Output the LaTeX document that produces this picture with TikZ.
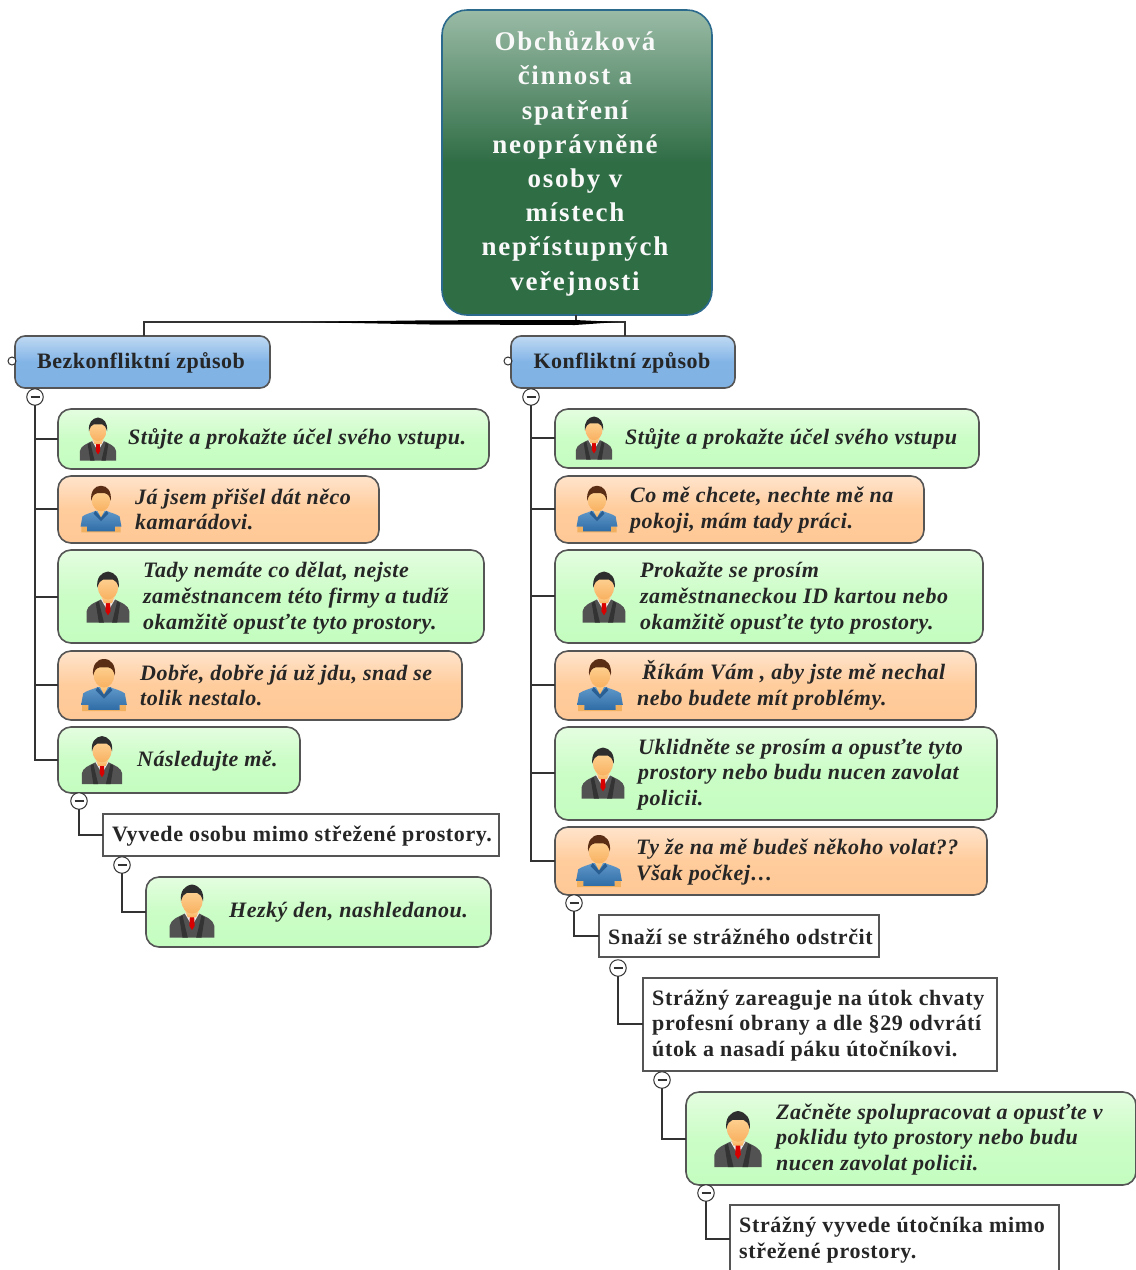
\documentclass[tikz,border=0pt]{standalone}
\usepackage{fontspec}
\setmainfont[LetterSpace=2.3]{Liberation Serif}
\newfontfamily\plainfont[LetterSpace=2.9]{Liberation Serif}
\newfontfamily\rootfont[LetterSpace=6.2]{Liberation Serif}
\usetikzlibrary{calc}
\definecolor{edgegray}{HTML}{555555}
\definecolor{linegray}{HTML}{333333}
\definecolor{e4fde0}{HTML}{E4FDE0}\definecolor{cbfdc6}{HTML}{CBFDC6}\definecolor{c4fdc0}{HTML}{C4FDC0}
\definecolor{ffe4cc}{HTML}{FFE4CC}\definecolor{ffcc9c}{HTML}{FFCC9C}\definecolor{ffc896}{HTML}{FFC896}
\definecolor{bfd9f3}{HTML}{BFD9F3}\definecolor{82b4e6}{HTML}{82B4E6}\definecolor{80b2e4}{HTML}{80B2E4}
\definecolor{2b6a8c}{HTML}{2B6A8C}\definecolor{9abba6}{HTML}{9ABBA6}\definecolor{2f6d45}{HTML}{2F6D45}
\definecolor{ffdfa8}{HTML}{FFDFA8}\definecolor{f8b05c}{HTML}{F8B05C}\definecolor{ffd79a}{HTML}{FFD79A}\definecolor{f8b060}{HTML}{F8B060}
\definecolor{f0b060}{HTML}{F0B060}\definecolor{5f97c8}{HTML}{5F97C8}\definecolor{2f6ca6}{HTML}{2F6CA6}\definecolor{2a5f94}{HTML}{2A5F94}\definecolor{5a2e14}{HTML}{5A2E14}
\tikzset{
  x=1pt,y=-1pt,
  boxbase/.style={anchor=north west,draw=edgegray,line width=1.6pt,inner sep=0pt,outer sep=0pt},
  greenbox/.style={boxbase,rounded corners=13pt,top color=e4fde0,bottom color=c4fdc0,middle color=cbfdc6},
  orangebox/.style={boxbase,rounded corners=13pt,top color=ffe4cc,bottom color=ffc896,middle color=ffcc9c},
  bluebox/.style={boxbase,rounded corners=10pt,top color=bfd9f3,bottom color=80b2e4,middle color=82b4e6},
  whitebox/.style={boxbase,fill=white,rounded corners=0pt},
  rootbox/.style={anchor=north west,draw=2b6a8c,line width=1.6pt,rounded corners=25pt,inner sep=0pt,outer sep=0pt,top color=9abba6,bottom color=2f6d45,middle color=2f6d45},
  italtxt/.style={anchor=west,align=left,inner sep=0pt,yshift=-1.2pt,font=\fontsize{22}{25.6}\selectfont\bfseries\itshape,text=black!85},
  plaintxt/.style={anchor=west,align=left,inner sep=0pt,yshift=-1.2pt,font=\plainfont\fontsize{22}{25.6}\selectfont\bfseries,text=black!85},
  headtxt/.style={anchor=center,align=center,inner sep=0pt,yshift=-1.5pt,font=\fontsize{22}{25.5}\selectfont\bfseries,text=black!85},
  roottxt/.style={anchor=center,align=center,inner sep=0pt,yshift=-2.5pt,font=\rootfont\fontsize{27}{34.2}\selectfont\bfseries,text=white!95!gray},
  collapse/.style={circle,draw=linegray,fill=white,line width=1pt,minimum size=16.5pt,inner sep=0pt,outer sep=0pt,
    path picture={\draw[line width=1.6pt,linegray] ($(path picture bounding box.center)+(-4.5,0)$)--($(path picture bounding box.center)+(4.5,0)$);}},
  tabmark/.style={circle,draw=linegray,fill=white,line width=1pt,minimum size=8pt,inner sep=0pt,outer sep=0pt},
  link/.style={draw=linegray,line width=1.4pt},
  suitman/.pic={
    \fill[black!68] (-21,25) -- (-21,14) .. controls (-20,8) and (-14,6) .. (-6,2) -- (6,2) .. controls (14,6) and (20,8) .. (21,14) -- (21,25) -- cycle;
    \fill[black!80] (-4,25) -- (-9,4) -- (-12,6) -- (-9,25) -- cycle;
    \fill[black!80] (4,25) -- (9,4) -- (12,6) -- (9,25) -- cycle;
    \fill[white!85!gray] (-7,2) -- (0,14) -- (7,2) -- cycle;
    \fill[red!85!black] (-2,5) -- (2,5) -- (2.5,14) -- (0,18) -- (-2.5,14) -- cycle;
    \shade[top color=ffdfa8,bottom color=f8b05c] (-7.5,-3) -- (7.5,-3) -- (4,6) -- (-4,6) -- cycle;
    \shade[top color=ffd79a,bottom color=f8b060] (0,-10) ellipse (10 and 12.5);
    \fill[black!82] (-10.5,-9) .. controls (-11.5,-19) and (-7,-24) .. (0,-25) .. controls (7,-24) and (11.5,-19) .. (10.5,-9) .. controls (9,-14) and (8,-16) .. (5,-17) -- (-5,-17) .. controls (-8,-16) and (-9,-14) .. (-10.5,-9) -- cycle;
  },
  casualman/.pic={
    \fill[f0b060] (-21,25) -- (-21,19) -- (-15,19) -- (-15,22) -- (15,22) -- (15,19) -- (21,19) -- (21,25) -- cycle;
    \shade[top color=5f97c8,bottom color=2f6ca6] (-15,24) -- (-15,19) -- (-22,19) -- (-20,8) .. controls (-16,5) and (-10,4) .. (-6,2) -- (6,2) .. controls (10,4) and (16,5) .. (20,8) -- (22,19) -- (15,19) -- (15,24) -- cycle;
    \fill[2a5f94] (-6,2) -- (0,9) -- (6,2) -- (8,5) -- (0,13) -- (-8,5) -- cycle;
    \shade[top color=ffdfa8,bottom color=f8b05c] (-6.5,-3) -- (6.5,-3) -- (0,9) -- cycle;
    \shade[top color=ffd79a,bottom color=f8b060] (0,-10) ellipse (10 and 12.5);
    \fill[5a2e14] (-10.5,-9) .. controls (-11.5,-19) and (-7,-25) .. (0,-25) .. controls (7,-25) and (11.5,-19) .. (10.5,-9) .. controls (9,-14) and (8,-16) .. (4,-17) -- (-4,-17) .. controls (-8,-16) and (-9,-14) .. (-10.5,-9) -- cycle;
  },
}
% \placebox{name}{style}{x1}{y1}{x2}{y2}
\newcommand{\placebox}[6]{\node[#2,minimum width=#5pt-#3pt,minimum height=#6pt-#4pt] (#1) at (#3,#4) {};}
\begin{document}
\begin{tikzpicture}
\clip (0,0) rectangle (1136,1270);
\useasboundingbox (0,0) rectangle (1136,1270);
\fill[white] (0,0) rectangle (1136,1270);
\coordinate (jl) at (144,322); \coordinate (jr) at (625,322); \coordinate (jm) at (576,322);
\coordinate (cA) at (35,397); \coordinate (cB) at (531,397);
% boxes
\placebox{root}{rootbox}{442}{10}{712}{315}
\placebox{L}{bluebox}{15}{336}{270}{388}
\placebox{R}{bluebox}{511}{336}{735}{388}
\placebox{l1}{greenbox}{58}{409}{489}{469}
\placebox{l2}{orangebox}{58}{476}{379}{543}
\placebox{l3}{greenbox}{58}{550}{484}{643}
\placebox{l4}{orangebox}{58}{651}{462}{720}
\placebox{l5}{greenbox}{58}{727}{300}{793}
\placebox{l6}{whitebox}{103}{814}{499}{856}
\placebox{l7}{greenbox}{146}{877}{491}{947}
\placebox{r1}{greenbox}{555}{409}{979}{468}
\placebox{r2}{orangebox}{555}{476}{924}{543}
\placebox{r3}{greenbox}{555}{550}{983}{643}
\placebox{r4}{orangebox}{555}{651}{976}{720}
\placebox{r5}{greenbox}{555}{727}{997}{820}
\placebox{r6}{orangebox}{555}{827}{987}{895}
\placebox{r7}{whitebox}{599}{915}{879}{957}
\placebox{r8}{whitebox}{643}{978}{997}{1071}
\placebox{r9}{greenbox}{686}{1092}{1136}{1185}
\placebox{r10}{whitebox}{730}{1205}{1059}{1285}
% root connectors
\draw[link] (root.south -| jm) -- (jm);
\draw[link] (L.north -| jl) -- (jl) -- (jr) -- (R.north -| jr);
\fill[black] (300,322) -- (430,320.3) -- (575,320) -- (618,322) -- (575,325) -- (430,324.5) -- cycle;
% collapse marks
\node[collapse] (mA) at (cA) {};
\node[collapse] (mB) at (cB) {};
\node[collapse] (m5) at (79,801) {};
\node[collapse] (m6) at (122,865) {};
\node[collapse] (m7) at (574,903) {};
\node[collapse] (m8) at (618,968) {};
\node[collapse] (m9) at (662,1080) {};
\node[collapse] (m10) at (706,1193) {};
\node[tabmark] (tL) at (12,361) {};
\node[tabmark] (tR) at (508,361) {};
\draw[link] (tL) -- (L.west |- tL);
\draw[link] (tR) -- (R.west |- tR);
% trunk links
\draw[link] (mA) -- (35,760) -- (l5.west |- 0,760);
\draw[link] (35,439) -- (l1.west |- 0,439);
\draw[link] (35,509) -- (l2.west |- 0,509);
\draw[link] (35,597) -- (l3.west |- 0,597);
\draw[link] (35,685) -- (l4.west |- 0,685);
\draw[link] (mB) -- (531,861) -- (r6.west |- 0,861);
\draw[link] (531,438) -- (r1.west |- 0,438);
\draw[link] (531,509) -- (r2.west |- 0,509);
\draw[link] (531,596) -- (r3.west |- 0,596);
\draw[link] (531,685) -- (r4.west |- 0,685);
\draw[link] (531,773) -- (r5.west |- 0,773);
\draw[link] (m5) -- (79,835) -- (l6.west |- 0,835);
\draw[link] (m6) -- (122,912) -- (l7.west |- 0,912);
\draw[link] (m7) -- (574,936) -- (r7.west |- 0,936);
\draw[link] (m8) -- (618,1024) -- (r8.west |- 0,1024);
\draw[link] (m9) -- (662,1139) -- (r9.west |- 0,1139);
\draw[link] (m10) -- (706,1239) -- (r10.west |- 0,1239);
% icons
\pic[scale=0.86] at (98,439) {suitman};
\pic[scale=0.93] at (101,509) {casualman};
\pic[scale=1.02] at (108,597) {suitman};
\pic[scale=1.04] at (104,685) {casualman};
\pic[scale=0.96] at (102,760) {suitman};
\pic[scale=1.06] at (192,911) {suitman};
\pic[scale=0.86] at (594,438) {suitman};
\pic[scale=0.93] at (597,509) {casualman};
\pic[scale=1.02] at (604,597) {suitman};
\pic[scale=1.04] at (600,685) {casualman};
\pic[scale=1.02] at (603,773) {suitman};
\pic[scale=1.04] at (599,861) {casualman};
\pic[scale=1.12] at (738,1139) {suitman};
% texts
\node[roottxt] (troot) at (575,161) {Obchůzková\\činnost a\\spatření\\neoprávněné\\osoby v\\místech\\nepřístupných\\veřejnosti};
\node[headtxt] (tLh) at (141,361) {Bezkonfliktní způsob};
\node[headtxt] (tRh) at (622,361) {Konfliktní způsob};
\node[italtxt] (t1) at (128,438) {Stůjte a prokažte účel svého vstupu.};
\node[italtxt] (t2) at (135,508) {Já jsem přišel dát něco\\kamarádovi.};
\node[italtxt] (t3) at (143,597) {Tady nemáte co dělat, nejste\\zaměstnancem této firmy a tudíž\\okamžitě opusťte tyto prostory.};
\node[italtxt] (t4) at (140,684) {Dobře, dobře já už jdu, snad se\\tolik nestalo.};
\node[italtxt] (t5) at (137,760) {Následujte mě.};
\node[plaintxt] (t6) at (112,835) {Vyvede osobu mimo střežené prostory.};
\node[italtxt] (t7) at (229,911) {Hezký den, nashledanou.};
\node[italtxt] (u1) at (625,438) {Stůjte a prokažte účel svého vstupu};
\node[italtxt] (u2) at (630,509) {Co mě chcete, nechte mě na\\pokoji, mám tady práci.};
\node[italtxt] (u3) at (640,597) {Prokažte se prosím\\zaměstnaneckou ID kartou nebo\\okamžitě opusťte tyto prostory.};
\node[italtxt] (u4) at (637,684) {\hspace*{5pt}Říkám Vám , aby jste mě nechal\\nebo budete mít problémy.};
\node[italtxt] (u5) at (638,773) {Uklidněte se prosím a opusťte tyto\\prostory nebo budu nucen zavolat\\policii.};
\node[italtxt] (u6) at (636,861) {Ty že na mě budeš někoho volat??\\Však počkej…};
\node[plaintxt] (u7) at (608,936) {Snaží se strážného odstrčit};
\node[plaintxt] (u8) at (652,1024) {Strážný zareaguje na útok chvaty\\profesní obrany a dle §29 odvrátí\\útok a nasadí páku útočníkovi.};
\node[italtxt] (u9) at (776,1138) {Začněte spolupracovat a opusťte v\\poklidu tyto prostory nebo budu\\nucen zavolat policii.};
\node[plaintxt] (u10) at (739,1239) {Strážný vyvede útočníka mimo\\střežené prostory.};
\end{tikzpicture}
\end{document}
